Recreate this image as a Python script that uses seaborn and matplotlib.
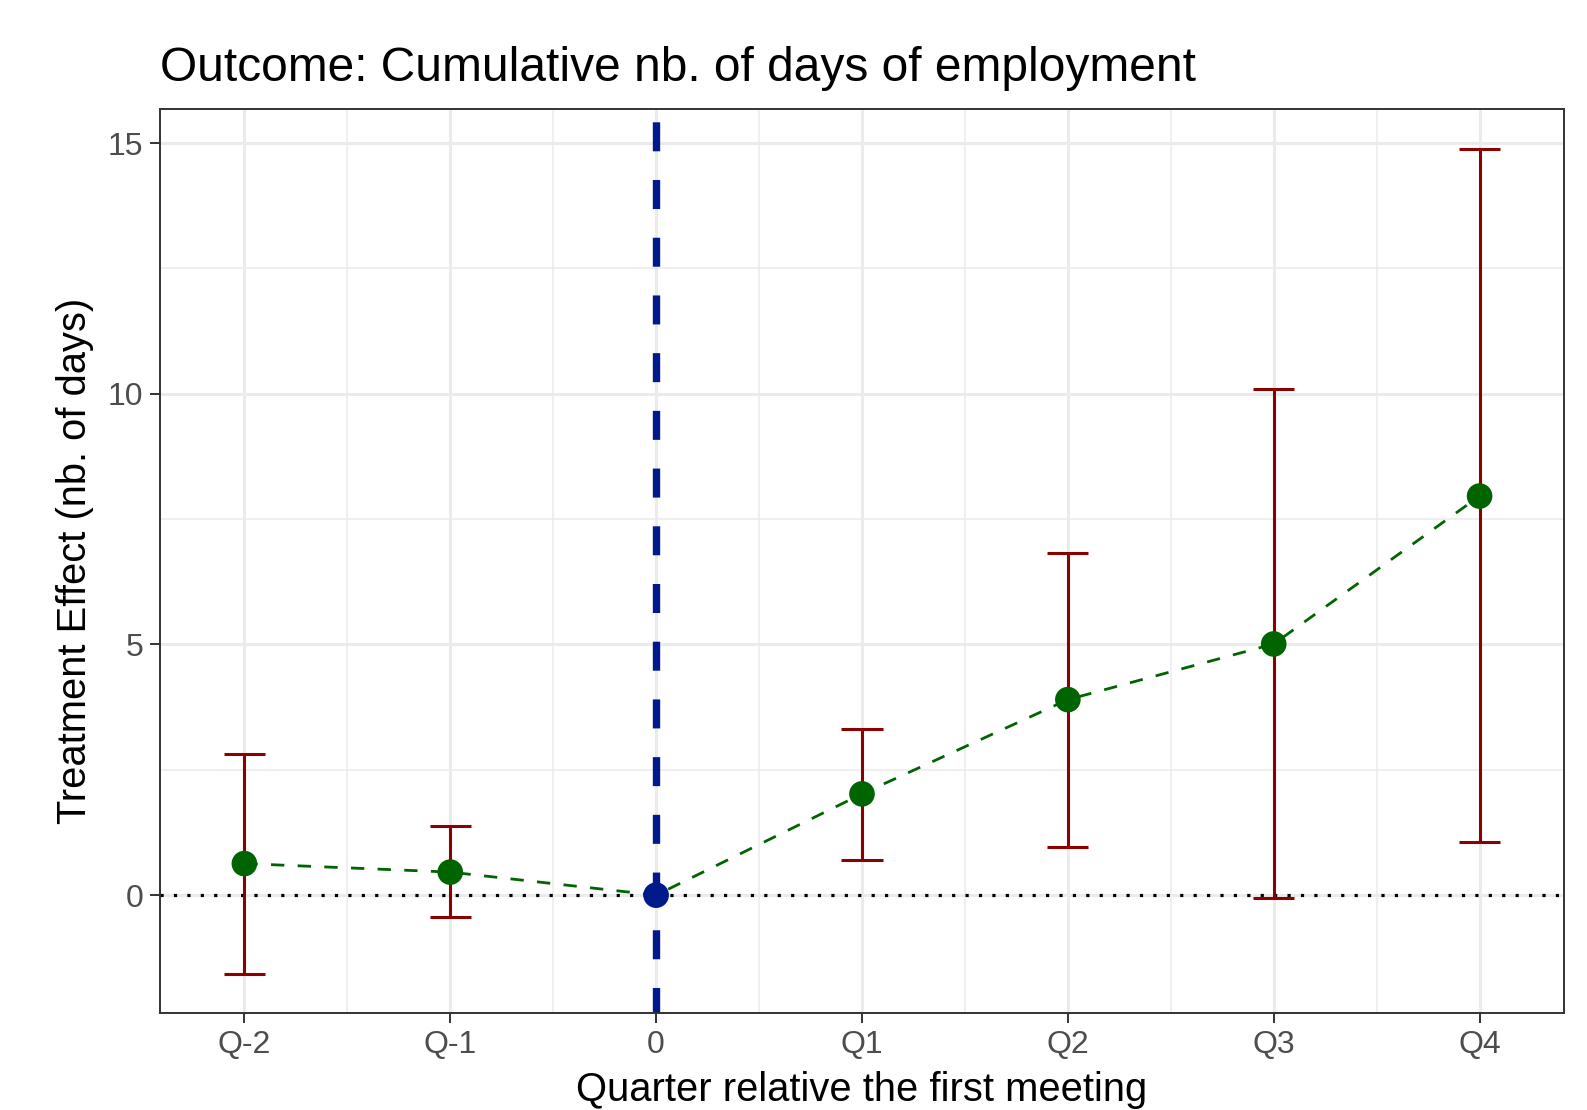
import matplotlib
matplotlib.use("Agg")
import matplotlib.pyplot as plt
import numpy as np
import pandas as pd
import seaborn as sns

# Event-study estimates
quarters = ["Q-2", "Q-1", "0", "Q1", "Q2", "Q3", "Q4"]
estimates = [0.63, 0.46, 0.0, 2.02, 3.90, 5.01, 7.96]
ci_low = [-1.57, -0.43, np.nan, 0.71, 0.96, -0.05, 1.06]
ci_high = [2.81, 1.37, np.nan, 3.32, 6.83, 10.09, 14.88]
y_ticks = [0, 5, 10, 15]

df = pd.DataFrame({"quarter": quarters, "estimate": estimates,
                   "low": ci_low, "high": ci_high})
df["pos"] = np.arange(len(df))
ref = df[df["quarter"] == "0"]
ci = df.dropna()

sns.set_theme(style="whitegrid")
plt.rcParams["font.family"] = ["Liberation Sans", "DejaVu Sans"]

fig = plt.figure(figsize=(15.87, 11.10), dpi=100)
ax = fig.add_axes([0.1008, 0.0874, 0.8847, 0.8144])

# Grid like theme_bw
grid_col = "#EBEBEB"
ax.set_axisbelow(True)
ax.grid(False)
ax.set_xticks(df["pos"])
ax.set_xticks(np.arange(0.5, 6, 1), minor=True)
ax.set_yticks(y_ticks)
ax.set_yticks([2.5, 7.5, 12.5], minor=True)
ax.grid(True, which="major", color=grid_col, lw=2.2)
ax.grid(True, which="minor", color=grid_col, lw=1.1)

# Reference lines
ax.axhline(0, color="black", lw=2.3, ls=(0, (1, 3.2)), zorder=2)
ax.axvline(2, ymin=1, ymax=0, color="#001A8C", lw=5.3,
           ls=(6.1, (3.94, 3.9)), zorder=2)

# Error bars
err_col = "#8B0000"
ax.vlines(ci["pos"], ci["low"], ci["high"], color=err_col, lw=2.2, zorder=3)
ax.hlines(ci["low"], ci["pos"] - 0.1, ci["pos"] + 0.1, color=err_col, lw=2.2, zorder=3)
ax.hlines(ci["high"], ci["pos"] - 0.1, ci["pos"] + 0.1, color=err_col, lw=2.2, zorder=3)

# Connecting line and points
sns.lineplot(data=df, x="pos", y="estimate", color="#006400", lw=2.0,
             ax=ax, zorder=4)
ax.lines[-1].set_linestyle((0, (4.8, 4.8)))
sns.scatterplot(data=ci, x="pos", y="estimate", color="#006400", s=340,
                edgecolor="none", ax=ax, zorder=5)
sns.scatterplot(data=ref, x="pos", y="estimate", color="#001A8C", s=340,
                edgecolor="none", ax=ax, zorder=5)

ax.set_xlim(-0.41, 6.41)
ax.set_ylim(-2.35, 15.68)
ax.set_xticklabels(quarters)
ax.set_yticklabels([str(v) for v in y_ticks])

ax.tick_params(axis="both", which="major", length=7, width=1.4,
               color="#333333", labelsize=23, labelcolor="#4D4D4D", pad=5,
               bottom=True, left=True)
ax.tick_params(which="minor", length=0)
for sp in ax.spines.values():
    sp.set_color("#333333")
    sp.set_linewidth(1.4)

ax.set_xlabel("Quarter relative the first meeting", fontsize=28.7,
              color="black", labelpad=8)
ax.set_ylabel("Treatment Effect (nb. of days)", fontsize=28.7,
              color="black", labelpad=10)
ax.set_title("Outcome: Cumulative nb. of days of employment", fontsize=34.5,
             color="black", loc="left", pad=20.5)

fig.savefig("out.png", dpi=100, facecolor="white")
